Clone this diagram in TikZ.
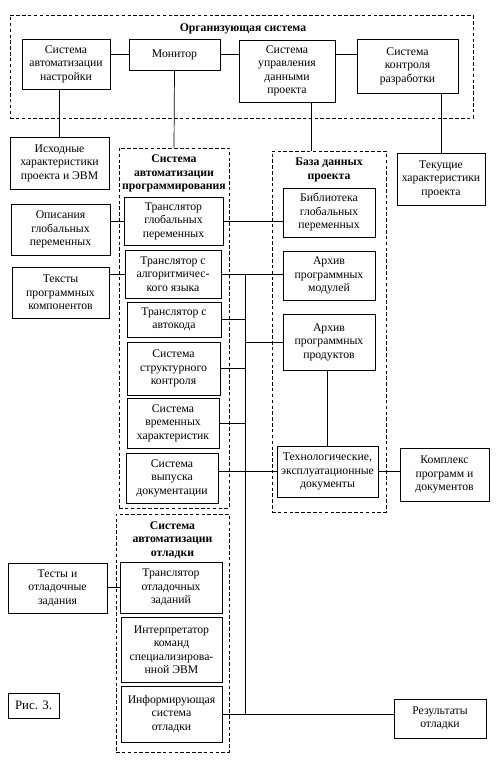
\documentclass[tikz,border=0pt]{standalone}
\usepackage{fontspec}
\setmainfont{Liberation Serif}

\tikzset{
  blok/.style={rectangle, draw, align=center, inner sep=1pt, line width=0.6pt, font=\fontsize{10}{11.5}\selectfont},
  ramka/.style={rectangle, draw, dash pattern=on 3pt off 2pt, line width=0.6pt},
  zagol/.style={align=center, font=\bfseries\fontsize{10}{11.5}\selectfont},
  svyaz/.style={line width=0.6pt}
}

\begin{document}
\begin{tikzpicture}
			\useasboundingbox (0,0) rectangle (15,-22.86);
			
			% Organizing system
			\node[ramka, minimum width=13.89cm, minimum height=3.09cm] (org) at (7.245,-1.995) {};
			\node[zagol] at (7.29,-0.87) {Организующая система};
			\node[blok, minimum width=2.64cm, minimum height=1.5cm] (nastr) at (1.98,-1.92) {Система\\автоматизации\\настройки};
			\node[blok, minimum width=2.73cm, minimum height=0.93cm] (monitor) at (5.235,-1.635) {Монитор};
			\node[blok, minimum width=2.88cm, minimum height=1.86cm] (sud) at (8.61,-2.13) {Система\\управления\\данными\\проекта};
			\node[blok, minimum width=3.03cm, minimum height=1.62cm] (skr) at (12.225,-1.98) {Система\\контроля\\разработки};
			
			% Programming automation system
			\node[ramka, minimum width=3.3cm, minimum height=10.8cm] (prog) at (5.22,-9.84) {};
			\node[zagol] at (5.22,-5.205) {Система\\автоматизации\\программирования};
			\node[blok, minimum width=2.97cm, minimum height=1.44cm] (tgp) at (5.205,-6.63) {Транслятор\\глобальных\\переменных};
			\node[blok, minimum width=2.88cm, minimum height=1.44cm] (tal) at (5.19,-8.22) {Транслятор с\\алгоритмичес-\\кого языка};
			\node[blok, minimum width=2.82cm, minimum height=1.05cm] (tak) at (5.22,-9.585) {Транслятор с\\автокода};
			\node[blok, minimum width=2.79cm, minimum height=1.59cm] (ssk) at (5.205,-11.055) {Система\\структурного\\контроля};
			\node[blok, minimum width=2.76cm, minimum height=1.5cm] (svh) at (5.19,-12.69) {Система\\временных\\характеристик};
			\node[blok, minimum width=2.76cm, minimum height=1.5cm] (svd) at (5.16,-14.34) {Система\\выпуска\\документации};
			
			% Debugging automation system
			\node[ramka, minimum width=3.39cm, minimum height=7.14cm] (otl) at (5.175,-18.99) {};
			\node[zagol] at (5.175,-16.2) {Система\\автоматизации\\отладки};
			\node[blok, minimum width=3.06cm, minimum height=1.53cm] (tod) at (5.13,-17.625) {Транслятор\\отладочных\\заданий};
			\node[blok, minimum width=3.03cm, minimum height=1.95cm] (iks) at (5.145,-19.485) {Интерпретатор\\команд\\специализирова-\\нной ЭВМ};
			\node[blok, minimum width=3.03cm, minimum height=1.68cm] (iso) at (5.145,-21.42) {Информирующая\\система\\отладки};
			
			% Project database
			\node[ramka, minimum width=3.42cm, minimum height=10.83cm] (bd) at (9.87,-9.945) {};
			\node[zagol] at (9.87,-5.1) {База данных\\проекта};
			\node[blok, minimum width=2.76cm, minimum height=1.47cm] (bgp) at (9.87,-6.375) {Библиотека\\глобальных\\переменных};
			\node[blok, minimum width=2.76cm, minimum height=1.47cm] (apm) at (9.87,-8.265) {Архив\\программных\\модулей};
			\node[blok, minimum width=2.76cm, minimum height=1.68cm] (app) at (9.87,-10.26) {Архив\\программных\\продуктов};
			\node[blok, minimum width=3.03cm, minimum height=1.53cm] (ted) at (9.825,-14.145) {Технологические,\\эксплуатационные\\документы};
			
			% Inputs on the left
			\node[blok, minimum width=2.97cm, minimum height=1.56cm] (ishodn) at (1.785,-4.89) {Исходные\\характеристики\\проекта и ЭВМ};
			\node[blok, minimum width=2.97cm, minimum height=1.53cm] (opis) at (1.815,-6.885) {Описания\\глобальных\\переменных};
			\node[blok, minimum width=2.91cm, minimum height=1.53cm] (teksty) at (1.815,-8.775) {Тексты\\программных\\компонентов};
			\node[blok, minimum width=2.97cm, minimum height=1.5cm] (testy) at (1.725,-17.64) {Тесты и\\отладочные\\задания};
			\node[blok, minimum width=1.53cm, minimum height=0.75cm, font=\fontsize{11}{13}\selectfont] (ris) at (1.005,-21.165) {Рис. 3.};
			
			% Outputs on the right
			\node[blok, minimum width=2.64cm, minimum height=1.56cm] (tekush) at (13.23,-5.37) {Текущие\\характеристики\\проекта};
			\node[blok, minimum width=2.67cm, minimum height=1.59cm] (kompl) at (13.335,-14.235) {Комплекс\\программ и\\документов};
			\node[blok, minimum width=2.76cm, minimum height=1.17cm] (rezult) at (13.2,-21.555) {Результаты\\отладки};
			
			% connections
			\coordinate (shina) at (7.35,0);
			\draw[svyaz] (monitor.west) -- (monitor.west -| nastr.east);
			\draw[svyaz] (monitor.east) -- (monitor.east -| sud.west);
			\draw[svyaz] (sud.east |- monitor.east) -- (skr.west |- monitor.east);
			\draw[svyaz] (ishodn.north) -- (ishodn.north |- nastr.south);
			\draw[svyaz] (monitor.south) -- (prog.north);
			\draw[svyaz] ([xshift=0.72cm]sud.south) -- ([xshift=0.72cm]sud.south |- bd.north);
			\draw[svyaz] (tekush.north) -- (tekush.north |- skr.south);
			\draw[svyaz] (tgp.west) -- (tgp.west -| opis.east);
			\draw[svyaz] (tgp.east) -- (tgp.east -| bgp.west);
			\draw[svyaz] (tal.west) -- (tal.west -| teksty.east);
			\draw[svyaz] (tal.east) -- (tal.east -| apm.west);
			\draw[svyaz] (shina |- tal.east) -- (shina |- iso.east);
			\draw[svyaz] (tak.east) -- (shina |- tak.east);
			\draw[svyaz] (shina |- app.west) -- (app.west);
			\draw[svyaz] (ssk.east) -- (shina |- ssk.east);
			\draw[svyaz] (svh.east) -- (shina |- svh.east);
			\draw[svyaz] (ted.west -| svd.east) -- (ted.west);
			\draw[svyaz] (ted.north) -- (ted.north |- app.south);
			\draw[svyaz] (ted.east) -- (ted.east -| kompl.west);
			\draw[svyaz] (tod.west -| testy.east) -- (tod.west);
			\draw[svyaz] (iso.east) -- (iso.east -| rezult.west);
		\end{tikzpicture}
\end{document}
